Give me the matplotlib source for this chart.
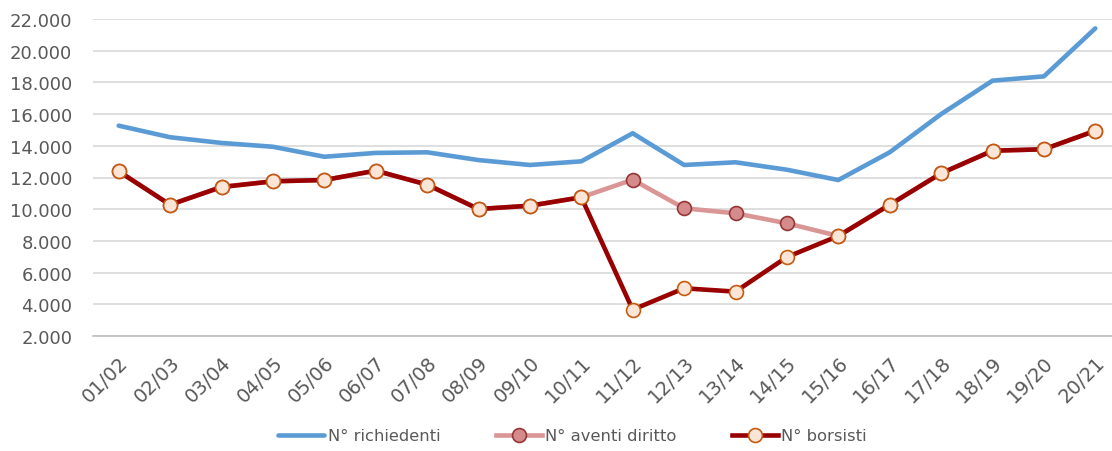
import matplotlib.pyplot as plt
from matplotlib.ticker import FuncFormatter

anni = ["01/02", "02/03", "03/04", "04/05", "05/06", "06/07", "07/08", "08/09",
        "09/10", "10/11", "11/12", "12/13", "13/14", "14/15", "15/16", "16/17",
        "17/18", "18/19", "19/20", "20/21"]

richiedenti = [15270, 14540, 14180, 13940, 13310, 13550, 13590, 13100, 12790, 13020,
               14790, 12790, 12960, 12490, 11840, 13590, 16000, 18110, 18380, 21410]

aventi_diritto = [12390, 10280, 11400, 11760, 11840, 12430, 11550, 10010, 10220, 10750,
                  11860, 10060, 9740, 9110, 8310, 10280, 12265, 13690, 13780, 14950]

borsisti = [12390, 10280, 11400, 11760, 11840, 12430, 11550, 10010, 10220, 10750,
            3660, 5010, 4800, 6980, 8310, 10280, 12265, 13690, 13780, 14950]

plt.rcParams["font.family"] = ["DejaVu Sans"]
text_color = "#595959"

fig = plt.figure(figsize=(11.12, 4.52), dpi=100)
W, H = 1112, 452
ax = fig.add_axes([93 / W, 1 - 337 / H, (1121 - 93) / W, (337 - 20) / H])

x = list(range(len(anni)))

ax.plot(x, richiedenti, color="#5B9BD5", linewidth=3.3, label="N° richiedenti",
        solid_capstyle="round", zorder=3)
ax.plot(x, aventi_diritto, color="#DA9694", linewidth=3.3, marker="o", markersize=10,
        markerfacecolor="#D58A8C", markeredgecolor="#953735", markeredgewidth=1.2,
        label="N° aventi diritto", zorder=4)
ax.plot(x, borsisti, color="#990000", linewidth=3.3, marker="o", markersize=10,
        markerfacecolor="#FBE5D6", markeredgecolor="#C55A11", markeredgewidth=1.2,
        label="N° borsisti", zorder=5)

ax.set_xlim(-0.5, len(anni) - 0.5)
ax.set_ylim(2000, 22000)
ax.set_yticks(range(2000, 22001, 2000))
ax.yaxis.set_major_formatter(FuncFormatter(lambda v, p: f"{int(v):,}".replace(",", ".")))
ax.set_xticks(x)
ax.set_xticklabels(anni, rotation=45, ha="right", rotation_mode="anchor")

ax.grid(axis="y", color="#D9D9D9", linewidth=1.2)
ax.set_axisbelow(True)
for s in ["left", "right", "top"]:
    ax.spines[s].set_visible(False)
ax.spines["bottom"].set_color("#BFBFBF")
ax.spines["bottom"].set_linewidth(1.2)
ax.tick_params(axis="x", length=0, labelsize=14, colors=text_color, pad=12)
ax.tick_params(axis="y", length=0, labelsize=13, colors=text_color)
for t in ax.yaxis.get_major_ticks():
    t.set_pad(15)

leg = fig.legend(loc="center", bbox_to_anchor=(0.515, 1 - 437 / H), ncol=3, frameon=False,
                 fontsize=11.8, handlelength=2.8, handletextpad=0.2, columnspacing=3.4)
for t in leg.get_texts():
    t.set_color(text_color)

fig.savefig("out.png", dpi=100)
